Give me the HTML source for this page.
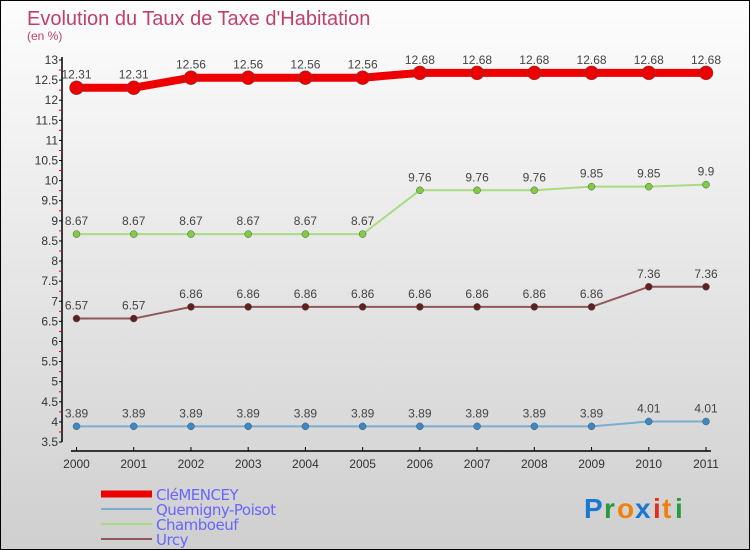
<!DOCTYPE html>
<html><head><meta charset="utf-8"><style>
body{margin:0}
#c{width:748px;height:548px;border:1px solid #000;background:linear-gradient(#fdfdfd,#cfcfcf);position:relative;font-family:"DejaVu Sans","Liberation Sans",sans-serif;overflow:hidden}
</style></head><body>
<div id="c">
<svg id="s" width="748" height="548" xmlns="http://www.w3.org/2000/svg">
<text x="26" y="24" font-size="20" font-family="Liberation Sans,sans-serif" fill="#c0406a">Evolution du Taux de Taxe d'Habitation</text>
<text x="26" y="39" font-size="12" font-family="Liberation Sans,sans-serif" fill="#c0406a">(en %)</text>
<g id="ax"></g><g id="ser"></g><g id="leg"></g>
<g font-family="Liberation Sans,sans-serif" font-size="28" font-weight="bold">
<text x="583" y="517" fill="#1a78d0">P</text><text x="603" y="517" fill="#2a9a3a">r</text><text x="616" y="517" fill="#f08010">o</text><text x="634" y="517" fill="#1a78d0">x</text><text x="652" y="517" fill="#e03020">i</text><text x="661" y="517" fill="#f08010">t</text><text x="674" y="517" fill="#2a9a3a">i</text>
</g>
</svg></div>
<script>
const years=["2000","2001","2002","2003","2004","2005","2006","2007","2008","2009","2010","2011"];
const clemency=[12.31,12.31,12.56,12.56,12.56,12.56,12.68,12.68,12.68,12.68,12.68,12.68];
const quemigny=[3.89,3.89,3.89,3.89,3.89,3.89,3.89,3.89,3.89,3.89,4.01,4.01];
const chamboeuf=[8.67,8.67,8.67,8.67,8.67,8.67,9.76,9.76,9.76,9.85,9.85,9.9];
const urcy=[6.57,6.57,6.86,6.86,6.86,6.86,6.86,6.86,6.86,6.86,7.36,7.36];
const yTicks=[3.5,4,4.5,5,5.5,6,6.5,7,7.5,8,8.5,9,9.5,10,10.5,11,11.5,12,12.5,13];
const NS="http://www.w3.org/2000/svg";
const x=i=>75.5+i*(705-75.5)/(years.length-1);
const y=v=>441-(v-3.5)*(382/9.5);
function mk(p,t,a){const e=document.createElementNS(NS,t);for(const k in a)e.setAttribute(k,a[k]);p.appendChild(e);return e;}
const ax=document.getElementById('ax');
let l=mk(ax,'line',{x1:61,y1:56,x2:61,y2:441,stroke:'#000','stroke-width':1.5});


l=mk(ax,'line',{x1:70,y1:450,x2:710,y2:450,stroke:'#000','stroke-width':1.5});


yTicks.forEach(v=>{
 mk(ax,'line',{x1:58,y1:y(v),x2:61,y2:y(v),stroke:'#000'});
 if(v<13) mk(ax,'line',{x1:58,y1:y(v+0.25),x2:61,y2:y(v+0.25),stroke:'#e00'});
 const t=mk(ax,'text',{x:57,y:y(v)+4,'font-size':12,'font-family':'Liberation Sans,sans-serif','text-anchor':'end',fill:'#333'});
 t.textContent=v;
 
 
});
years.forEach((yr,i)=>{
 mk(ax,'line',{x1:x(i),y1:446,x2:x(i),y2:450,stroke:'#000'});
 const t=mk(ax,'text',{x:x(i),y:467,'font-size':12,'font-family':'Liberation Sans,sans-serif','text-anchor':'middle',fill:'#333'});
 t.textContent=yr;
 
 
});
const series=[
 {n:'CléMENCEY',d:clemency,c:'#ee0000',w:8,r:7,mc:'#e00'},
 {n:'Quemigny-Poisot',d:quemigny,c:'#7aaed0',w:2,r:3.5,mc:'#3a88c8'},
 {n:'Chamboeuf',d:chamboeuf,c:'#a8dc80',w:2,r:3.5,mc:'#80cc40'},
 {n:'Urcy',d:urcy,c:'#905858',w:2,r:3.5,mc:'#602020'}
];
const sg=document.getElementById('ser'),lg=document.getElementById('leg');
series.forEach((s,k)=>{
 const g=mk(sg,'g',{});
 
 
 const p=mk(g,'polyline',{points:s.d.map((v,i)=>x(i)+','+y(v)).join(' '),fill:'none',stroke:s.c,'stroke-width':s.w});
 
 
 s.d.forEach((v,i)=>{
  const c=mk(g,'circle',{cx:x(i),cy:y(v),r:s.r,fill:s.mc,stroke:'#555','stroke-width':0.5});
  
  
  const t=mk(g,'text',{x:x(i),y:y(v)-9,'font-size':12,'font-family':'Liberation Sans,sans-serif','text-anchor':'middle',fill:'#444'});
  t.textContent=v.toFixed(2).replace(/\.?0+$/,'');
  
  
 });
 const ly=493+k*15;
 const ll=mk(lg,'line',{x1:100,y1:ly,x2:151,y2:ly,stroke:s.c,'stroke-width':k?2:7});
 
 
 const lt=mk(lg,'text',{x:155,y:ly+6,'font-size':15,fill:'#6666ff','letter-spacing':'-0.5'});
 lt.textContent=s.n;
 
 
});
</script>
</body></html>
